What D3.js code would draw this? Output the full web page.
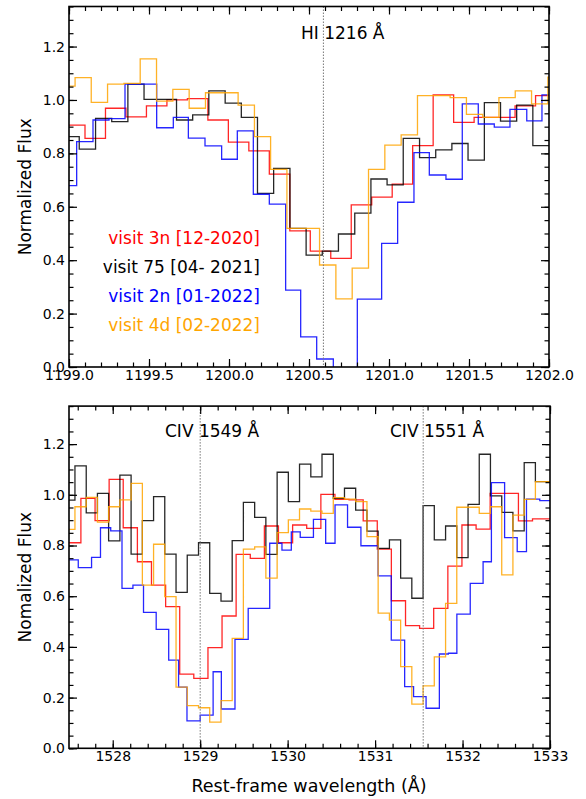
<!DOCTYPE html>
<html><head><meta charset="utf-8">
<script src="https://cdn.jsdelivr.net/npm/d3@7"></script>
<style>
body{margin:0;background:#fff}
svg{display:block}
text{font-family:"DejaVu Sans",sans-serif;fill:#000}
</style>
</head><body>
<svg id="c" width="586" height="799"></svg>
<script>
// ---------------- DATA ----------------
// Top panel: HI 1216 (bin edges in Angstrom, flux per bin)
const hiRedEdges = [1199.0,1199.1,1199.228,1199.356,1199.484,1199.612,1199.74,1199.868,1199.996,1200.124,1200.252,1200.38,1200.508,1200.636,1200.764,1200.892,1201.02,1201.148,1201.276,1201.404,1201.532,1201.66,1201.788,1201.916,1202.0];
const hiRedFlux  = [0.906,0.856,0.969,0.937,0.978,1.0,1.005,0.925,0.842,0.809,0.722,0.51,0.434,0.407,0.607,0.636,0.685,0.829,1.019,0.916,0.935,0.935,0.978,1.016];

const hiBlackEdges = [1199.0,1199.064,1199.166,1199.267,1199.368,1199.469,1199.571,1199.672,1199.773,1199.874,1199.976,1200.077,1200.178,1200.279,1200.381,1200.482,1200.583,1200.684,1200.786,1200.887,1200.988,1201.089,1201.191,1201.292,1201.393,1201.494,1201.596,1201.697,1201.798,1201.899,1202.0];
const hiBlackFlux  = [0.863,0.816,0.931,0.919,1.059,1.002,1.002,0.925,0.944,1.034,0.988,0.935,0.650,0.744,0.519,0.419,0.434,0.498,0.576,0.704,0.682,0.856,0.784,0.813,0.837,0.775,0.990,0.921,0.981,0.829];

const hiBlueEdges = [1199.0,1199.048,1199.150,1199.250,1199.350,1199.450,1199.548,1199.652,1199.746,1199.850,1199.954,1200.052,1200.152,1200.252,1200.354,1200.448,1200.548,1200.652,1200.802,1200.954,1201.054,1201.156,1201.252,1201.356,1201.458,1201.558,1201.658,1201.756,1201.861,1201.956,1202.0];
const hiBlueFlux  = [0.679,0.844,0.925,0.930,1.059,1.059,0.896,0.935,0.857,0.828,0.778,0.884,0.647,0.610,0.288,0.113,0.030,-0.05,0.254,0.463,0.617,0.803,0.719,0.703,0.985,0.910,0.898,0.965,0.922,1.019];

const hiOrangeEdges = [1199.0,1199.038,1199.139,1199.241,1199.343,1199.445,1199.547,1199.649,1199.751,1199.853,1199.955,1200.057,1200.159,1200.26,1200.362,1200.464,1200.566,1200.668,1200.77,1200.872,1200.974,1201.076,1201.178,1201.28,1201.382,1201.484,1201.586,1201.687,1201.789,1201.891,1201.993,1202.0];
const hiOrangeFlux  = [1.052,1.084,0.991,1.059,1.062,1.154,0.996,1.040,0.969,1.027,1.027,0.981,0.863,0.740,0.519,0.519,0.382,0.255,0.370,0.740,0.831,0.869,1.016,1.016,1.009,0.946,0.935,1.009,1.034,0.985,1.085];

// Bottom panel: CIV doublet
const civRedEdges = [1527.5,1527.636,1527.798,1527.959,1528.12,1528.282,1528.443,1528.605,1528.766,1528.927,1529.089,1529.25,1529.411,1529.573,1529.734,1529.895,1530.057,1530.218,1530.38,1530.541,1530.702,1530.864,1531.025,1531.186,1531.348,1531.509,1531.67,1531.832,1531.993,1532.155,1532.316,1532.477,1532.639,1532.8,1533.0];
const civRedFlux  = [0.811,0.986,0.898,1.061,0.870,0.736,0.644,0.559,0.293,0.276,0.397,0.522,0.765,0.749,0.877,0.811,0.881,0.868,1.002,0.982,0.980,0.897,0.786,0.582,0.484,0.473,0.552,0.719,0.881,0.865,1.006,1.006,0.897,0.905];

const civBlackEdges = [1527.5,1527.568,1527.697,1527.825,1527.953,1528.082,1528.21,1528.339,1528.467,1528.595,1528.724,1528.852,1528.981,1529.109,1529.238,1529.366,1529.494,1529.623,1529.751,1529.88,1530.008,1530.136,1530.265,1530.393,1530.522,1530.65,1530.778,1530.907,1531.035,1531.164,1531.292,1531.42,1531.549,1531.677,1531.806,1531.934,1532.063,1532.191,1532.319,1532.448,1532.576,1532.705,1532.833,1533.0];
const civBlackFlux  = [0.979,1.114,0.929,1.006,0.818,1.078,0.766,0.898,0.993,0.766,0.615,0.762,0.811,0.611,0.581,0.819,0.970,0.911,0.765,1.089,0.973,1.121,1.071,1.160,0.986,1.026,0.940,0.857,0.789,0.822,0.671,0.592,0.957,0.822,0.877,0.752,0.962,1.160,0.996,0.931,0.858,1.127,1.052];

const civBlueEdges = [1527.5,1527.606,1527.758,1527.86,1527.977,1528.106,1528.231,1528.352,1528.497,1528.64,1528.753,1528.849,1529.0,1529.148,1529.242,1529.398,1529.549,1529.795,1529.935,1530.042,1530.144,1530.295,1530.435,1530.542,1530.685,1530.838,1531.034,1531.185,1531.338,1531.44,1531.583,1531.735,1531.838,1531.935,1532.088,1532.235,1532.33,1532.481,1532.625,1532.731,1532.883,1533.0];
const civBlueFlux  = [0.743,0.713,0.753,0.870,0.858,0.631,0.644,0.536,0.469,0.348,0.241,0.108,0.131,0.302,0.155,0.430,0.552,0.809,0.782,0.854,0.832,0.903,0.809,0.960,0.872,0.799,0.680,0.427,0.243,0.204,0.158,0.372,0.375,0.529,0.651,0.736,1.048,0.831,0.776,0.983,0.977];

const civOrangeEdges = [1527.5,1527.568,1527.697,1527.825,1527.953,1528.082,1528.21,1528.339,1528.467,1528.595,1528.724,1528.852,1528.981,1529.109,1529.238,1529.366,1529.494,1529.623,1529.751,1529.88,1530.008,1530.136,1530.265,1530.393,1530.522,1530.65,1530.778,1530.907,1531.035,1531.164,1531.292,1531.42,1531.549,1531.677,1531.806,1531.934,1532.063,1532.191,1532.319,1532.448,1532.576,1532.705,1532.833,1533.0];
const civOrangeFlux  = [0.864,0.953,0.990,0.892,0.953,0.980,1.045,0.644,0.805,0.598,0.241,0.168,0.160,0.103,0.188,0.434,0.786,0.795,0.671,0.851,0.901,0.944,0.936,0.927,0.989,0.983,0.973,0.835,0.533,0.506,0.322,0.174,0.246,0.361,0.572,0.951,0.951,0.927,0.953,0.684,0.920,0.982,1.052];

const legendLabels = ["visit 3n [12-2020]","visit 75 [04- 2021]","visit 2n [01-2022]","visit 4d [02-2022]"];
const seriesColors = ["#ff0000","#000000","#0000ff","#ffa500"];

const topXTicks = [1199.0,1199.5,1200.0,1200.5,1201.0,1201.5,1202.0];
const botXTicks = [1528,1529,1530,1531,1532,1533];
const yTicks = [0.0,0.2,0.4,0.6,0.8,1.0,1.2];

const hiLine = 1200.59, hiLabel = "HI 1216 Å";
const civLines = [1529.0, 1531.55], civLabels = ["CIV 1549 Å","CIV 1551 Å"];

// ---------------- DRAW ----------------
const svg = d3.select("#c");

function panel(opt){
  const g = svg.append("g");
  const x = d3.scaleLinear().domain(opt.xDomain).range([opt.left, opt.right]);
  const y = d3.scaleLinear().domain([0,1.35]).range([opt.bottom, opt.top]);
  const clipId = "clip"+opt.id;
  svg.append("clipPath").attr("id",clipId).append("rect")
    .attr("x",opt.left).attr("y",opt.top).attr("width",opt.right-opt.left).attr("height",opt.bottom-opt.top);

  const line = d3.line().x(d=>x(d[0])).y(d=>y(d[1])).curve(d3.curveStepAfter);
  const data = g.append("g").attr("clip-path",`url(#${clipId})`);
  opt.series.forEach((s,i)=>{
    const pts = s.flux.map((v,k)=>[s.edges[k], v]);
    pts.push([s.edges[s.edges.length-1], s.flux[s.flux.length-1]]);
    data.append("path").attr("d", line(pts)).attr("fill","none")
      .attr("stroke", s.color).attr("stroke-width",1.3).attr("stroke-opacity",0.85);
  });

  opt.vlines.forEach(v=>{
    g.append("line").attr("x1",x(v)).attr("x2",x(v)).attr("y1",opt.top).attr("y2",opt.bottom)
      .attr("stroke","#777").attr("stroke-width",1).attr("stroke-dasharray","1.5,1.5");
  });

  const minorX = opt.minorX, minorY = d3.range(0,1.3501,0.05);
  const mk = (axis, tr)=>{ const a = g.append("g").attr("transform",tr).call(axis); a.select(".domain").remove(); return a; };
  const bx = mk(d3.axisBottom(x).tickValues(opt.xTicks).tickFormat(opt.xFmt).tickSizeInner(-8).tickSizeOuter(0).tickPadding(3), `translate(0,${opt.bottom})`);
  bx.selectAll("text").attr("font-size",14).attr("font-family","DejaVu Sans");
  mk(d3.axisBottom(x).tickValues(minorX).tickFormat("").tickSizeInner(-4.5).tickSizeOuter(0), `translate(0,${opt.bottom})`);
  mk(d3.axisTop(x).tickValues(opt.xTicks).tickFormat("").tickSizeInner(-8).tickSizeOuter(0), `translate(0,${opt.top})`);
  mk(d3.axisTop(x).tickValues(minorX).tickFormat("").tickSizeInner(-4.5).tickSizeOuter(0), `translate(0,${opt.top})`);
  const ly = mk(d3.axisLeft(y).tickValues(yTicks).tickFormat(d3.format(".1f")).tickSizeInner(-8).tickSizeOuter(0).tickPadding(4), `translate(${opt.left},0)`);
  ly.selectAll("text").attr("font-size",14).attr("font-family","DejaVu Sans");
  mk(d3.axisLeft(y).tickValues(minorY).tickFormat("").tickSizeInner(-4.5).tickSizeOuter(0), `translate(${opt.left},0)`);
  mk(d3.axisRight(y).tickValues(yTicks).tickFormat("").tickSizeInner(-8).tickSizeOuter(0), `translate(${opt.right},0)`);
  mk(d3.axisRight(y).tickValues(minorY).tickFormat("").tickSizeInner(-4.5).tickSizeOuter(0), `translate(${opt.right},0)`);
  g.selectAll(".tick line").attr("stroke","#000").attr("stroke-width",1.2);

  g.append("rect").attr("x",opt.left).attr("y",opt.top).attr("width",opt.right-opt.left).attr("height",opt.bottom-opt.top)
    .attr("fill","none").attr("stroke","#000").attr("stroke-width",1.6);

  g.append("text").attr("transform",`translate(31,${(opt.top+opt.bottom)/2}) rotate(-90)`)
    .attr("text-anchor","middle").attr("font-size",17).text(opt.yLabel);
  return {x,y,g};
}

const topPanel = panel({
  id:"top", left:69, right:549, top:6.5, bottom:367,
  xDomain:[1199.0,1202.0], xTicks:topXTicks, xFmt:d3.format(".1f"),
  minorX:d3.range(1199.0,1202.001,0.1),
  vlines:[hiLine], yLabel:"Normalized Flux",
  series:[
    {edges:hiRedEdges, flux:hiRedFlux, color:seriesColors[0]},
    {edges:hiBlackEdges, flux:hiBlackFlux, color:seriesColors[1]},
    {edges:hiBlueEdges, flux:hiBlueFlux, color:seriesColors[2]},
    {edges:hiOrangeEdges, flux:hiOrangeFlux, color:seriesColors[3]}
  ]
});
topPanel.g.append("text").attr("x",301).attr("y",39).attr("font-size",17).text(hiLabel);
legendLabels.forEach((t,i)=>{
  topPanel.g.append("text").attr("x",260).attr("y",243.5+i*29).attr("text-anchor","end")
    .attr("font-size",17).style("fill",seriesColors[i]).text(t);
});

const botPanel = panel({
  id:"bot", left:69, right:550, top:406.1, bottom:748.3,
  xDomain:[1527.5,1533.0], xTicks:botXTicks, xFmt:d3.format("d"),
  minorX:d3.range(1527.6,1533.001,0.2),
  vlines:civLines, yLabel:"Nomalized Flux",
  series:[
    {edges:civRedEdges, flux:civRedFlux, color:seriesColors[0]},
    {edges:civBlackEdges, flux:civBlackFlux, color:seriesColors[1]},
    {edges:civBlueEdges, flux:civBlueFlux, color:seriesColors[2]},
    {edges:civOrangeEdges, flux:civOrangeFlux, color:seriesColors[3]}
  ]
});
botPanel.g.append("text").attr("x",165).attr("y",437).attr("font-size",17).text(civLabels[0]);
botPanel.g.append("text").attr("x",390).attr("y",437).attr("font-size",17).text(civLabels[1]);

svg.append("text").attr("x",309).attr("y",792).attr("text-anchor","middle").attr("font-size",17.5)
  .text("Rest-frame wavelength (Å)");
</script>
</body></html>
